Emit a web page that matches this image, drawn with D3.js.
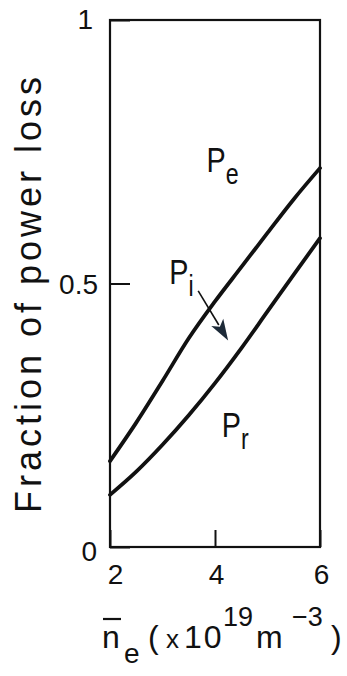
<!DOCTYPE html>
<html>
<head>
<meta charset="utf-8">
<script src="https://cdn.jsdelivr.net/npm/d3@7"></script>
<style>
  html, body { margin: 0; padding: 0; background: #fff; }
  svg { display: block; }
  text { font-family: "Liberation Sans", Arial, sans-serif; fill: #111; }
</style>
</head>
<body>
<svg id="chart" width="347" height="676"></svg>
<script>
// Electron density (x10^19 m^-3)
const density = [2.0, 2.5, 3.0, 3.5, 4.0, 4.5, 5.0, 5.5, 6.0];
// Cumulative fraction: radiation + ion loss (upper boundary of P_i)
const upperBoundary = [0.163, 0.236, 0.315, 0.396, 0.466, 0.531, 0.596, 0.660, 0.719];
// Fraction of radiated power (upper boundary of P_r)
const lowerBoundary = [0.099, 0.143, 0.194, 0.250, 0.311, 0.377, 0.447, 0.517, 0.586];
const xTicks = [2, 4, 6];
const yTicks = [0, 0.5, 1];
const yTickLabels = ["0", "0.5", "1"];
// Region labels: [main, subscript, x, y] in data units
const regionLabels = [
  ["P", "e", 3.84, 0.712],
  ["P", "i", 3.13, 0.500],
  ["P", "r", 4.13, 0.208]
];
// Arrow from the P_i label across the upper boundary
const arrowFrom = [3.68, 0.486];
const arrowTo = [4.25, 0.392];

const svg = d3.select("#chart");
const x = d3.scaleLinear().domain([2, 6]).range([110, 320]);
const y = d3.scaleLinear().domain([0, 1]).range([547, 20]);
const ink = "#111";
const font = "Liberation Sans, Arial, sans-serif";

// Plot frame
svg.append("rect")
  .attr("x", x(2)).attr("y", y(1))
  .attr("width", x(6) - x(2)).attr("height", y(0) - y(1))
  .attr("fill", "none").attr("stroke", ink).attr("stroke-width", 2.2);

// Y axis (inward ticks)
const yAxis = svg.append("g")
  .attr("transform", `translate(${x(2)},0)`)
  .call(d3.axisLeft(y).tickValues(yTicks)
    .tickFormat((d, i) => yTickLabels[i])
    .tickSizeInner(-20).tickSizeOuter(0).tickPadding(12));
yAxis.select(".domain").remove();
yAxis.selectAll("line").attr("stroke", ink).attr("stroke-width", 2);
yAxis.selectAll("text").attr("font-size", 28).attr("font-family", font)
  .attr("fill", ink)
  .attr("dx", d => d === 1 ? -5 : (d === 0 ? -1 : 0))
  .attr("dy", d => d === 0 ? "0.48em" : (d === 1 ? "0.3em" : "0.36em"));

// X axis (inward ticks)
const xAxis = svg.append("g")
  .attr("transform", `translate(0,${y(0)})`)
  .call(d3.axisBottom(x).tickValues(xTicks).tickFormat(d3.format("d"))
    .tickSizeInner(-17).tickSizeOuter(0).tickPadding(17));
xAxis.select(".domain").remove();
xAxis.selectAll("line").attr("stroke", ink).attr("stroke-width", 2);
xAxis.selectAll("text").attr("font-size", 28).attr("font-family", font)
  .attr("fill", ink).attr("dx", d => d === 2 ? 5 : 1);

// Boundary curves
const line = d3.line()
  .x((d, i) => x(density[i]))
  .y(d => y(d))
  .curve(d3.curveMonotoneX);
[upperBoundary, lowerBoundary].forEach(series => {
  svg.append("path")
    .attr("d", line(series))
    .attr("fill", "none")
    .attr("stroke", ink)
    .attr("stroke-width", 3.8)
    .attr("stroke-linecap", "round");
});

// Region labels with subscripts (slightly condensed lettering)
regionLabels.forEach(([main, sub, dx, dy]) => {
  const t = svg.append("text")
    .attr("transform", `translate(${x(dx)},${y(dy)}) scale(0.8,1)`)
    .attr("font-size", 36);
  t.append("tspan").text(main);
  t.append("tspan").text(sub).attr("font-size", 29).attr("dy", 12).attr("dx", 0);
});

// Arrow
const ax0 = x(arrowFrom[0]), ay0 = y(arrowFrom[1]);
const ax1 = x(arrowTo[0]), ay1 = y(arrowTo[1]);
const ang = Math.atan2(ay1 - ay0, ax1 - ax0);
const headLen = 21, headHalf = 7;
const bx = ax1 - headLen * Math.cos(ang), by = ay1 - headLen * Math.sin(ang);
svg.append("line")
  .attr("x1", ax0).attr("y1", ay0).attr("x2", bx + 3 * Math.cos(ang)).attr("y2", by + 3 * Math.sin(ang))
  .attr("stroke", ink).attr("stroke-width", 1.6);
svg.append("path")
  .attr("d", d3.line()([
    [ax1, ay1],
    [bx - headHalf * Math.sin(ang), by + headHalf * Math.cos(ang)],
    [bx + 5 * Math.cos(ang), by + 5 * Math.sin(ang)],
    [bx + headHalf * Math.sin(ang), by - headHalf * Math.cos(ang)]
  ]) + "Z")
  .attr("fill", "#1d2a38");

// Y axis title
svg.append("text")
  .attr("transform", "translate(41,295) rotate(-90)")
  .attr("text-anchor", "middle")
  .attr("font-size", 36)
  .attr("textLength", 436)
  .attr("lengthAdjust", "spacing")
  .text("Fraction of power loss");

// X axis title: n̄_e (x10^19 m^-3)
const xt = svg.append("g").attr("font-size", 32);
const base = 648;
xt.append("text").attr("x", 102).attr("y", base).text("n");
xt.append("line").attr("x1", 103).attr("x2", 121).attr("y1", base - 29).attr("y2", base - 29)
  .attr("stroke", ink).attr("stroke-width", 2.2);
xt.append("text").attr("x", 124).attr("y", base + 15).attr("font-size", 28).text("e");
xt.append("text").attr("x", 148).attr("y", base).text("(");
xt.append("text").attr("x", 166).attr("y", base).attr("font-size", 26).text("x");
xt.append("text").attr("x", 184).attr("y", base).attr("letter-spacing", 2).text("10");
xt.append("text").attr("x", 223).attr("y", base - 22).attr("font-size", 27).text("19");
xt.append("text").attr("x", 256).attr("y", base).text("m");
xt.append("text").attr("x", 292).attr("y", base - 22).attr("font-size", 27).text("\u22123");
xt.append("text").attr("x", 331).attr("y", base).text(")");
</script>
</body>
</html>
